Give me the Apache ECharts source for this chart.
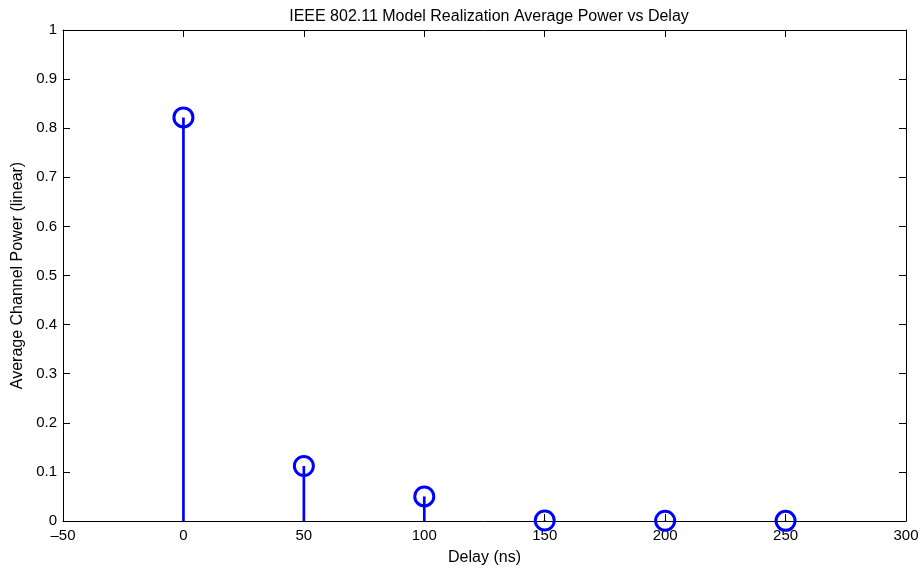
<!DOCTYPE html>
<html>
<head>
<meta charset="utf-8">
<script src="https://cdn.jsdelivr.net/npm/echarts@6/dist/echarts.min.js"></script>
<style>html,body{margin:0;padding:0;background:#fff;}#c{width:923px;height:571px;}</style>
</head>
<body>
<div id="c"></div>
<script>
const delays = [0, 50, 100, 150, 200, 250];
const power = [0.822, 0.112, 0.050, 0.001, 0.0005, 0.0003];
const xTicks = [-50, 0, 50, 100, 150, 200, 250, 300];
const yTicks = [0, 0.1, 0.2, 0.3, 0.4, 0.5, 0.6, 0.7, 0.8, 0.9, 1];

const pts = delays.map((d, i) => [d, power[i]]);
const font = 'Liberation Sans, Arial, Helvetica, sans-serif';
const chart = echarts.init(document.getElementById('c'));
const axisCommon = {
  axisLine: {show: true, onZero: false, lineStyle: {color: '#000', width: 1}},
  axisTick: {show: true, inside: true, length: 7, lineStyle: {color: '#000'}},
  splitLine: {show: false}
};
chart.setOption({
  animation: false,
  title: {
    text: 'IEEE 802.11 Model Realization Average Power vs Delay',
    left: 484, top: 4, textAlign: 'center',
    textStyle: {fontFamily: font, fontSize: 16, fontWeight: 'normal', color: '#000'}
  },
  grid: {left: 63, right: 17, top: 30, bottom: 50, containLabel: false, outerBoundsMode: 'none'},
  xAxis: [
    Object.assign({}, axisCommon, {
      type: 'value', min: -50, max: 300, interval: 50, position: 'bottom',
      name: 'Delay (ns)', nameLocation: 'middle', nameGap: 29,
      nameTextStyle: {fontFamily: font, fontSize: 16, color: '#000'},
      axisLabel: {fontFamily: font, fontSize: 15, color: '#000', margin: 7,
        formatter: v => xTicks.includes(v) ? String(v).replace('-', '\u2013') : ''}
    }),
    Object.assign({}, axisCommon, {
      type: 'value', min: -50, max: 300, interval: 50, position: 'top',
      axisLabel: {show: false}
    })
  ],
  yAxis: [
    Object.assign({}, axisCommon, {
      type: 'value', min: 0, max: 1, interval: 0.1, position: 'left',
      name: 'Average Channel Power (linear)', nameLocation: 'middle', nameGap: 36,
      nameTextStyle: {fontFamily: font, fontSize: 16, color: '#000'},
      axisLabel: {fontFamily: font, fontSize: 15, color: '#000', margin: 6,
        formatter: v => { const t = yTicks.find(y => Math.abs(y - v) < 1e-9); return t === undefined ? '' : String(Math.round(t * 10) / 10); }}
    }),
    Object.assign({}, axisCommon, {
      type: 'value', min: 0, max: 1, interval: 0.1, position: 'right',
      axisLabel: {show: false}
    })
  ],
  series: [
    {
      type: 'custom',
      xAxisIndex: 0, yAxisIndex: 0,
      data: pts,
      renderItem: function (params, api) {
        const p0 = api.coord([api.value(0), 0]);
        const p1 = api.coord([api.value(0), api.value(1)]);
        return {
          type: 'line',
          shape: {x1: p0[0], y1: p0[1], x2: p1[0], y2: p1[1]},
          style: {stroke: '#0000ff', lineWidth: 2.7}
        };
      },
      z: 3
    },
    {
      type: 'scatter',
      xAxisIndex: 0, yAxisIndex: 0,
      data: pts,
      symbol: 'circle',
      symbolSize: 19,
      itemStyle: {color: 'rgba(0,0,0,0)', borderColor: '#0000ff', borderWidth: 3, opacity: 1},
      emphasis: {disabled: true},
      z: 4
    }
  ]
});
</script>
</body>
</html>
